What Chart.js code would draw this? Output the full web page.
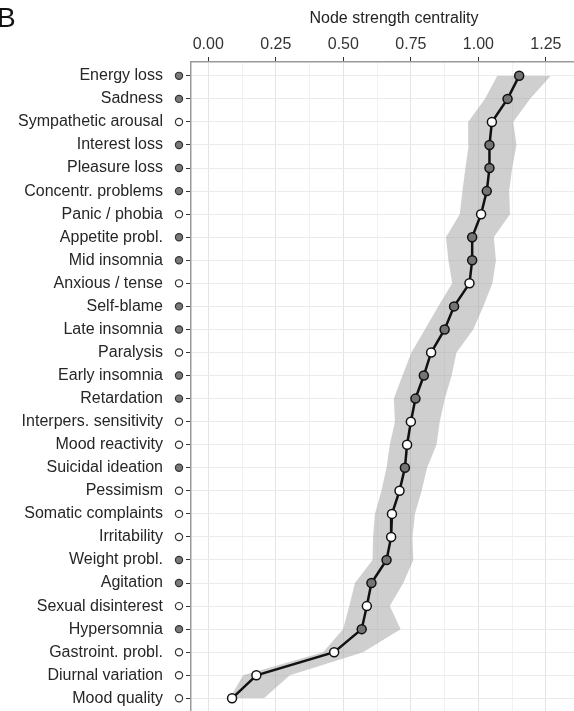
<!DOCTYPE html>
<html>
<head>
<meta charset="utf-8">
<script src="https://cdn.jsdelivr.net/npm/chart.js@4.4.1/dist/chart.umd.min.js"></script>
<style>
    html, body { margin: 0; padding: 0; background: #fff; }
    #wrap { position: relative; width: 574px; height: 711px; }
</style>
</head>
<body>
<div id="wrap"><canvas id="chart"></canvas></div>
<script>
    const symptoms = [
        'Energy loss', 'Sadness', 'Sympathetic arousal', 'Interest loss', 'Pleasure loss',
        'Concentr. problems', 'Panic / phobia', 'Appetite probl.', 'Mid insomnia', 'Anxious / tense',
        'Self-blame', 'Late insomnia', 'Paralysis', 'Early insomnia', 'Retardation',
        'Interpers. sensitivity', 'Mood reactivity', 'Suicidal ideation', 'Pessimism', 'Somatic complaints',
        'Irritability', 'Weight probl.', 'Agitation', 'Sexual disinterest', 'Hypersomnia',
        'Gastroint. probl.', 'Diurnal variation', 'Mood quality'
    ];

    // 1 = DSM symptom (grey marker), 0 = non-DSM (white marker)
    const dsmSymptom = [1, 1, 0, 1, 1, 1, 0, 1, 1, 0, 1, 1, 0, 1, 1, 0, 0, 1, 0, 0, 0, 1, 1, 0, 1, 0, 0, 0];

    const strength = [
        1.151, 1.108, 1.050, 1.041, 1.041, 1.031, 1.010, 0.977, 0.977, 0.967,
        0.910, 0.875, 0.825, 0.798, 0.767, 0.750, 0.736, 0.728, 0.708, 0.680,
        0.677, 0.660, 0.604, 0.587, 0.568, 0.466, 0.178, 0.088
    ];

    const ciLow = [
        1.070, 1.024, 0.962, 0.964, 0.952, 0.941, 0.931, 0.880, 0.889, 0.903,
        0.851, 0.802, 0.752, 0.719, 0.687, 0.691, 0.672, 0.660, 0.641, 0.617,
        0.610, 0.608, 0.543, 0.522, 0.499, 0.425, 0.129, 0.080
    ];

    const ciHigh = [
        1.268, 1.191, 1.129, 1.141, 1.125, 1.114, 1.117, 1.057, 1.065, 1.052,
        1.018, 0.981, 0.919, 0.901, 0.876, 0.857, 0.845, 0.810, 0.790, 0.765,
        0.756, 0.759, 0.722, 0.672, 0.712, 0.573, 0.302, 0.206
    ];

    const xTickValues = [0, 0.25, 0.5, 0.75, 1, 1.25];
    const xTickLabels = ['0.00', '0.25', '0.50', '0.75', '1.00', '1.25'];
    const xMinorValues = [0.125, 0.375, 0.625, 0.875, 1.125];

    const FONT = "'Liberation Sans', Arial, Helvetica, sans-serif";

    function toPoints(values) {
        return values.map((v, i) => ({ x: v, y: i }));
    }

    function isMajor(v) {
        return xTickValues.some(t => Math.abs(t - v) < 1e-9);
    }

    // axis title, panel letter and the little symptom markers next to the labels
    const decorPlugin = {
        id: 'decor',
        afterDraw(chart) {
            const { ctx, chartArea, scales } = chart;
            const y = scales.y;
            ctx.save();

            symptoms.forEach((name, i) => {
                const py = y.getPixelForValue(i);
                ctx.beginPath();
                ctx.arc(chartArea.left - 12, py, 3.6, 0, Math.PI * 2);
                ctx.fillStyle = dsmSymptom[i] ? '#7a7a7a' : '#ffffff';
                ctx.fill();
                ctx.lineWidth = 1.2;
                ctx.strokeStyle = '#333';
                ctx.stroke();
            });

            ctx.fillStyle = '#222';
            ctx.font = `16px ${FONT}`;
            ctx.textAlign = 'center';
            ctx.textBaseline = 'alphabetic';
            ctx.fillText('Node strength centrality', 394, 23);

            ctx.font = `28px ${FONT}`;
            ctx.textAlign = 'left';
            ctx.fillStyle = '#111';
            ctx.fillText('B', -3, 27);

            ctx.restore();
        }
    };

    document.addEventListener('DOMContentLoaded', () => {
        Chart.defaults.font.family = FONT;
        Chart.defaults.font.size = 16;
        Chart.defaults.color = '#333';

        new Chart(document.getElementById('chart'), {
            type: 'line',
            data: {
                datasets: [
                    {
                        label: 'lower',
                        data: toPoints(ciLow),
                        order: 2,
                        borderWidth: 0,
                        pointRadius: 0,
                        fill: false
                    },
                    {
                        label: 'upper',
                        data: toPoints(ciHigh),
                        order: 1,
                        borderWidth: 0,
                        pointRadius: 0,
                        backgroundColor: 'rgba(155, 155, 155, 0.48)',
                        fill: '-1'
                    },
                    {
                        label: 'Node strength',
                        data: toPoints(strength),
                        order: 0,
                        borderColor: '#111',
                        borderWidth: 2.5,
                        tension: 0,
                        pointRadius: 4.5,
                        pointBorderWidth: 1.5,
                        pointBorderColor: '#111',
                        pointBackgroundColor: dsmSymptom.map(d => d ? '#747474' : '#ffffff'),
                        fill: false
                    }
                ]
            },
            options: {
                indexAxis: 'y',
                responsive: true,
                maintainAspectRatio: false,
                animation: false,
                layout: { padding: 0, autoPadding: false },
                plugins: {
                    legend: { display: false },
                    tooltip: { enabled: false }
                },
                scales: {
                    x: {
                        type: 'linear',
                        position: 'top',
                        min: -0.064,
                        max: 1.354,
                        afterBuildTicks: (scale) => {
                            scale.ticks = xTickValues.concat(xMinorValues)
                                .sort((a, b) => a - b)
                                .map(v => ({ value: v }));
                        },
                        afterFit: (scale) => {
                            scale.height = 62;
                            scale.paddingLeft = 0;
                            scale.paddingRight = 0;
                        },
                        ticks: {
                            autoSkip: false,
                            maxRotation: 0,
                            padding: 3,
                            color: '#333',
                            callback: (v) => {
                                const idx = xTickValues.findIndex(t => Math.abs(t - v) < 1e-9);
                                return idx >= 0 ? xTickLabels[idx] : '';
                            }
                        },
                        grid: {
                            color: (c) => (c.tick && isMajor(c.tick.value)) ? '#e4e4e4' : '#f1f1f1',
                            tickColor: (c) => (c.tick && isMajor(c.tick.value)) ? '#333' : 'rgba(0,0,0,0)',
                            tickLength: 5,
                            lineWidth: 1
                        },
                        border: { display: true, color: '#9a9a9a', width: 1.5 }
                    },
                    y: {
                        type: 'linear',
                        reverse: true,
                        min: -0.6,
                        max: 27.55,
                        afterBuildTicks: (scale) => {
                            scale.ticks = symptoms.map((s, i) => ({ value: i }));
                        },
                        afterFit: (scale) => {
                            scale.width = 191;
                            scale.paddingTop = 0;
                            scale.paddingBottom = 0;
                        },
                        ticks: {
                            autoSkip: false,
                            padding: 23,
                            color: '#262626',
                            callback: (v) => symptoms[v]
                        },
                        grid: {
                            color: '#ebebeb',
                            tickColor: '#333',
                            tickLength: 5,
                            lineWidth: 1
                        },
                        border: { display: true, color: '#9a9a9a', width: 1.5 }
                    }
                }
            },
            plugins: [decorPlugin]
        });
    });
</script>
</body>
</html>
